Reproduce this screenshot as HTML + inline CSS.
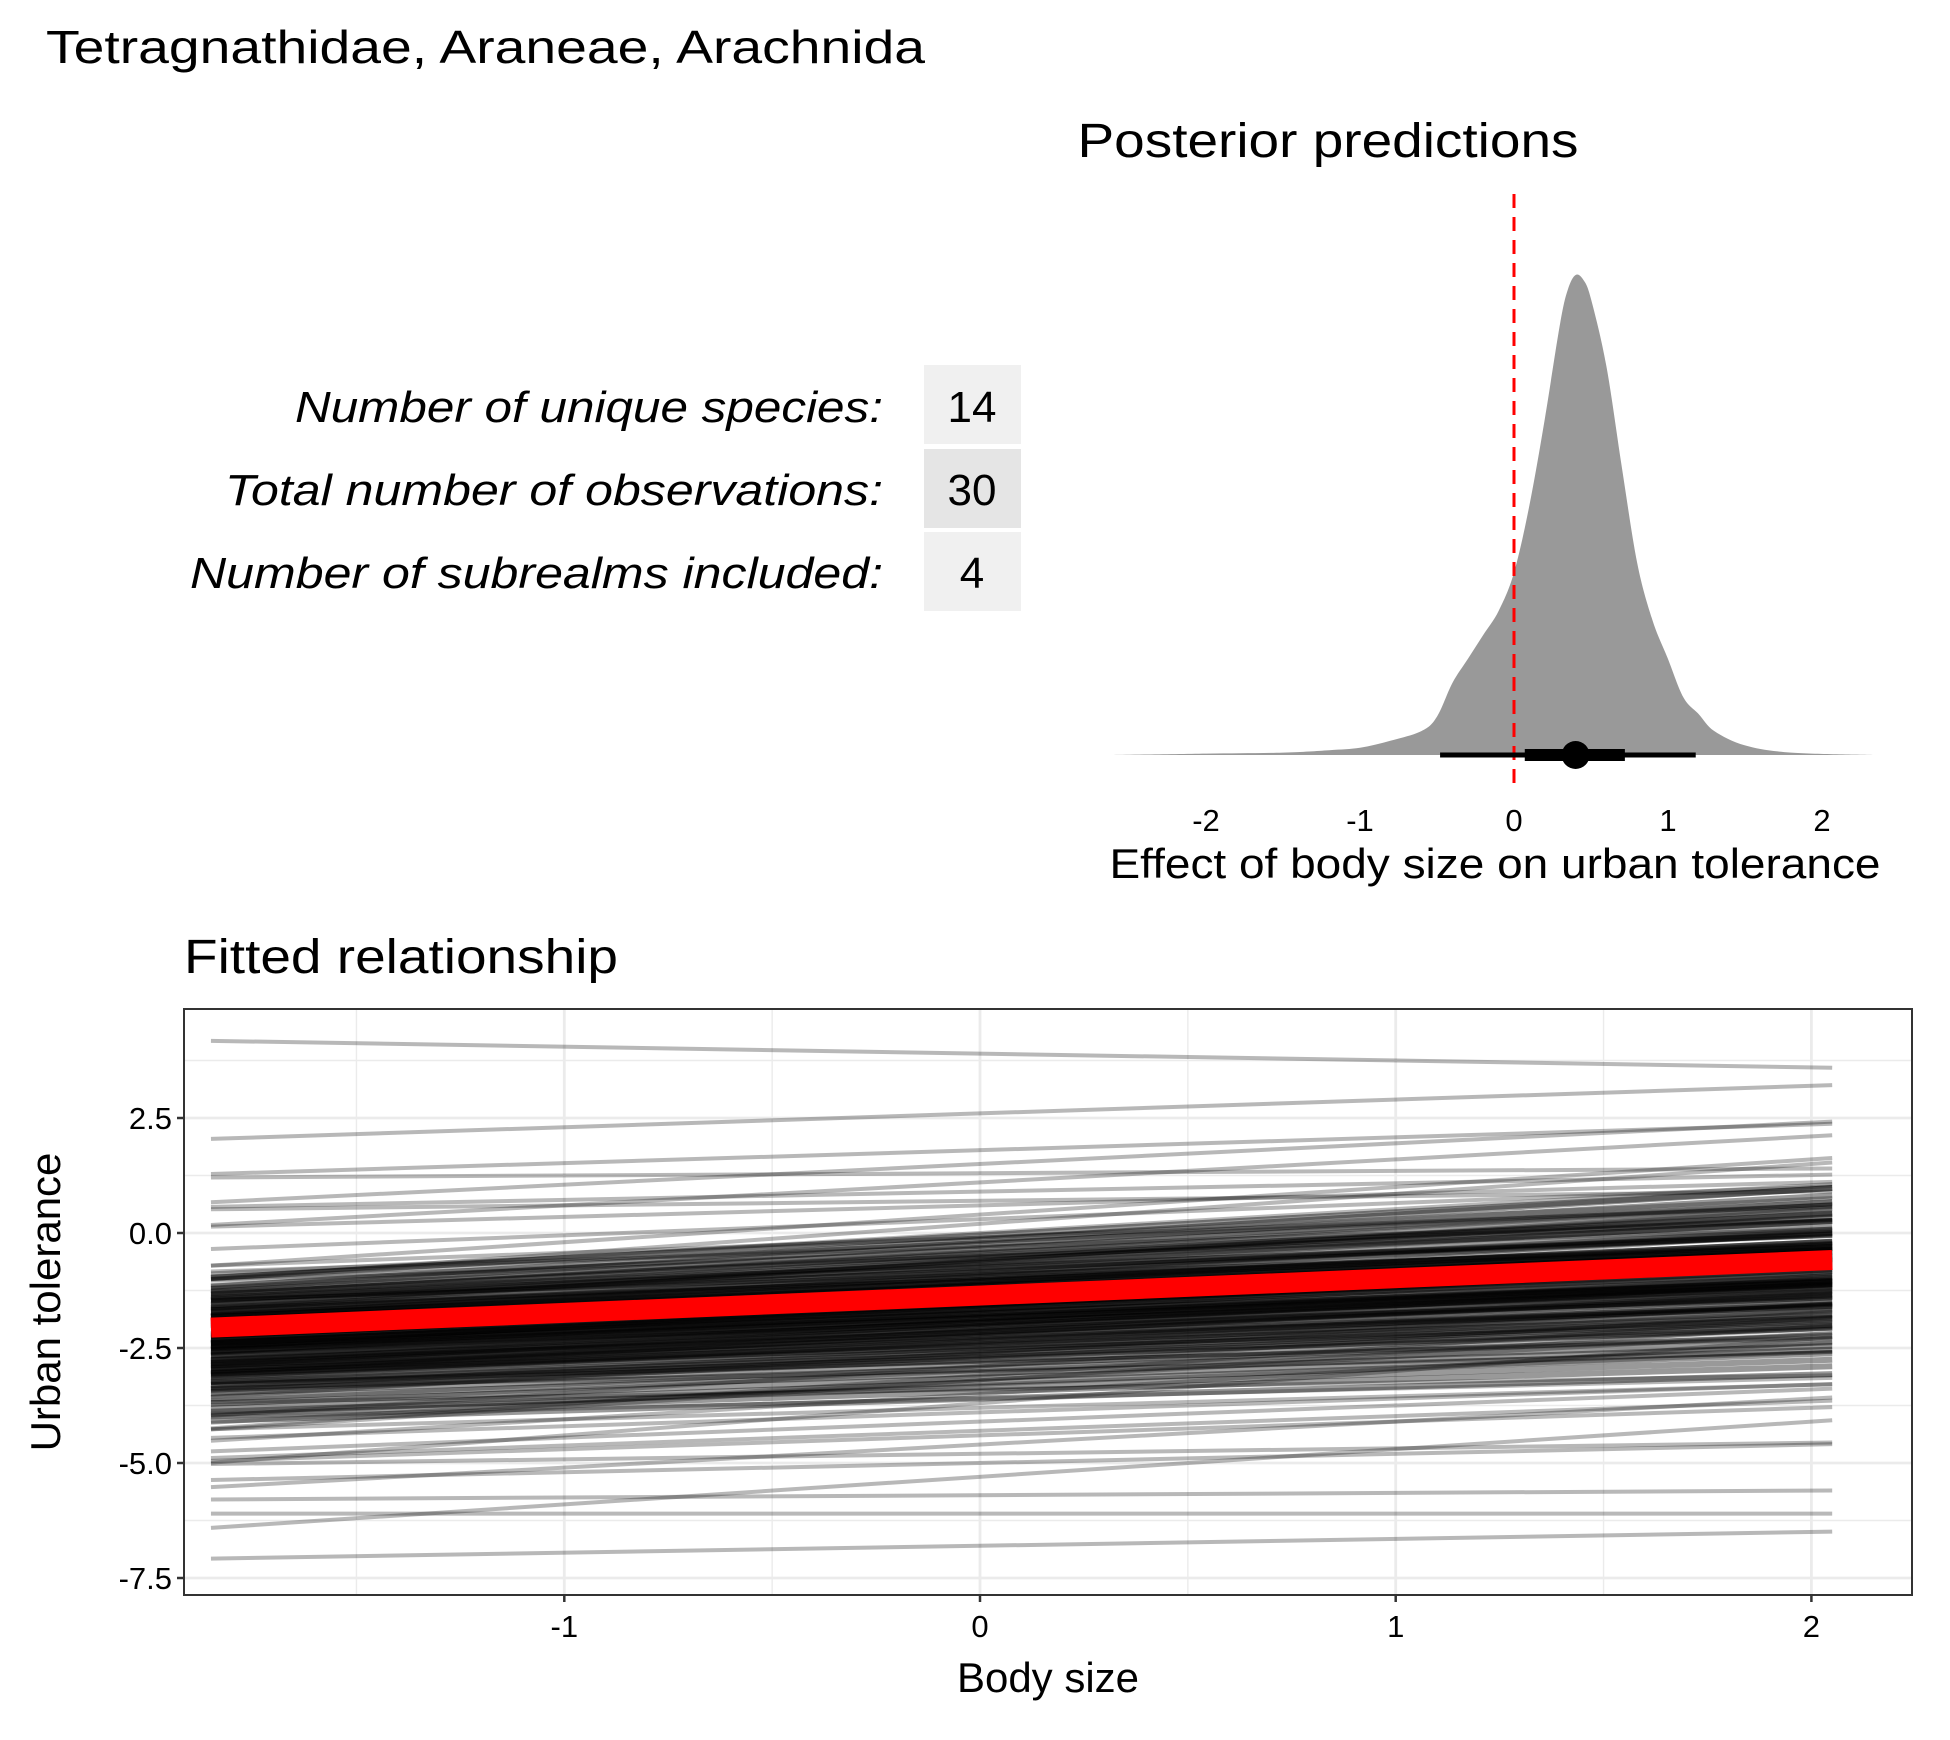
<!DOCTYPE html>
<html><head><meta charset="utf-8"><style>
html,body{margin:0;padding:0;background:#fff}
svg{display:block;font-family:"Liberation Sans",Arial,sans-serif}
</style></head><body>
<svg id="fig" width="1950" height="1740" viewBox="0 0 1950 1740" xmlns="http://www.w3.org/2000/svg">
<rect width="1950" height="1740" fill="#fff"/>
<text x="46" y="63" font-size="46" textLength="879" lengthAdjust="spacingAndGlyphs">Tetragnathidae, Araneae, Arachnida</text>
<g>
<text x="883" y="422" font-size="44" font-style="italic" text-anchor="end" textLength="588" lengthAdjust="spacingAndGlyphs">Number of unique species:</text>
<text x="883" y="505" font-size="44" font-style="italic" text-anchor="end" textLength="658" lengthAdjust="spacingAndGlyphs">Total number of observations:</text>
<text x="883" y="588" font-size="44" font-style="italic" text-anchor="end" textLength="693" lengthAdjust="spacingAndGlyphs">Number of subrealms included:</text>
<rect x="924" y="365" width="97" height="79" fill="#f0f0f0"/>
<rect x="924" y="449" width="97" height="79" fill="#e5e5e5"/>
<rect x="924" y="532" width="97" height="79" fill="#f0f0f0"/>
<text x="972" y="422" font-size="44" text-anchor="middle">14</text>
<text x="972" y="505" font-size="44" text-anchor="middle">30</text>
<text x="972" y="588" font-size="44" text-anchor="middle">4</text>
</g>
<text x="1328" y="157" font-size="48" text-anchor="middle" textLength="501" lengthAdjust="spacingAndGlyphs">Posterior predictions</text>
<g id="topPanel"></g>
<text x="184" y="973" font-size="48" textLength="434" lengthAdjust="spacingAndGlyphs">Fitted relationship</text>
<g id="botPanel"></g>
<text x="1048" y="1692" font-size="42" text-anchor="middle">Body size</text>
<text transform="translate(60,1302) rotate(-90)" font-size="42" text-anchor="middle">Urban tolerance</text>
<text x="1495" y="878" font-size="42" text-anchor="middle" textLength="771" lengthAdjust="spacingAndGlyphs">Effect of body size on urban tolerance</text>
</svg>
<script>
const NS="http://www.w3.org/2000/svg";
// ---- posterior density data ----
const densX=[-2.6,-2.0,-1.5,-1.2,-1.0,-0.8,-0.6,-0.5,-0.4,-0.3,-0.2,-0.1,0.0,0.1,0.2,0.3,0.35,0.4,0.45,0.5,0.6,0.7,0.8,0.9,1.0,1.1,1.2,1.3,1.5,1.8,2.35];
const densY=[0,0.003,0.005,0.01,0.015,0.03,0.05,0.08,0.15,0.2,0.25,0.3,0.38,0.52,0.7,0.9,0.97,1.0,0.99,0.95,0.81,0.6,0.4,0.28,0.2,0.12,0.085,0.05,0.02,0.005,0];
const topTicks=[-2,-1,0,1,2];
const intervalThin=[-0.48,1.18];
const intervalThick=[0.07,0.72];
const pointEst=[0.4];
// ---- fitted lines data ----
const xRange=[-1.85,2.05];
const fitIntercept=[-1.36];
const fitSlope=[0.377];
const intercepts=[-1.4,-0.9,-2.1,-1.6,-0.3,-2.8,-1.1,-1.9,-0.6,-2.4,-1.3,-3.2,-0.1,-1.7,-2.0,-1.2,-0.8,-2.6,-1.5,-3.6,0.4,-1.0,-2.2,-1.8,-0.5,-2.9,-1.4,-0.2,-3.0,-1.6,0.9,-2.3,-1.1,-4.1,-0.7,-1.9,-2.5,-1.3,0.2,-3.4,-1.0,-2.0,-0.4,-1.7,-2.7,-1.2,-3.9,0.6,-1.5,-2.1,-0.9,-3.1,-1.8,-0.3,-2.4,-1.4,1.3,-4.6,-1.1,-2.2,-0.6,-1.6,-3.3,-0.8,-2.0,1.8,-5.3,-1.3,-2.6,-0.1,-1.9,-3.7,-1.0,-2.3,0.0,-1.5,-2.8,-4.3,-0.5,-1.7,2.6,-6.1,-1.2,-2.1,-0.7,-3.5,-1.4,-1.8,0.7,-2.5,-5.0,-1.1,-3.0,-0.4,-2.0,3.9,-6.8,-1.6,-2.4,-0.9,1.1,-3.8,-1.3,-2.2,-4.8,0.3,-1.9,-2.9,-1.0,-5.7,-1.5,-0.2,-2.7,-3.2,1.5,-4.4,-1.8,-0.6,-2.3,-1.2];
const slopes=[0.4,0.3,0.5,0.35,0.45,0.25,0.42,0.38,0.55,0.3,0.4,0.5,0.33,0.44,0.28,0.47,0.36,0.52,0.41,0.22,0.6,0.34,0.46,0.39,0.29,0.58,0.37,0.43,0.2,0.49,0.18,0.4,0.53,0.35,0.31,0.45,0.27,0.48,0.65,0.15,0.38,0.42,0.5,0.32,0.44,0.36,0.3,0.25,0.55,0.4,0.47,0.62,0.33,0.29,0.41,0.46,0.05,0.5,0.37,0.3,0.57,0.43,0.35,0.39,0.48,0.28,0.6,0.34,0.45,0.42,0.31,0.7,0.4,0.36,0.52,0.44,0.26,0.32,0.38,0.49,0.3,0.0,0.41,0.35,0.46,0.55,0.39,0.43,0.1,0.47,0.2,0.37,0.4,0.33,0.45,-0.15,0.15,0.42,0.36,0.3,0.5,0.25,0.38,0.44,0.12,0.35,0.48,0.4,0.32,0.05,0.46,0.4,0.3,0.58,0.45,0.3,0.37,0.5,0.34,0.42];
const coreIntercepts=[-1.35,-1.05,-1.75,-2.15,-0.85,-2.45,-1.25,-1.55,-1.95,-0.65,-2.65,-1.15,-1.45,-1.85,-2.25,-0.95,-2.85,-1.65,-0.45,-3.05,-1.3,-1.7,-2.05,-0.75,-2.35,-1.0,-1.6,-2.55,-0.55,-3.25,-1.2,-1.9,-2.1,-0.35,-2.75,-1.5,-1.8,-0.8,-2.95,-1.1,-1.4,-2.3,-0.25,-3.45,-1.65,-2.0,-0.6,-2.5,-1.25,-1.75,-0.9,-3.15,-1.55,-2.2,-0.15,-2.7,-1.05,-1.85,-0.7,-2.4,-1.35,-3.6,-0.05,-1.95,-2.6,-0.5,-1.45,-3.35,-1.15,-2.15];
const coreSlopes=[0.38,0.42,0.35,0.4,0.45,0.33,0.37,0.41,0.39,0.44,0.32,0.36,0.43,0.38,0.34,0.46,0.3,0.4,0.48,0.29,0.39,0.36,0.42,0.35,0.41,0.37,0.44,0.33,0.47,0.31,0.4,0.38,0.36,0.5,0.34,0.42,0.37,0.45,0.28,0.39,0.43,0.35,0.52,0.27,0.4,0.36,0.46,0.32,0.41,0.38,0.44,0.3,0.37,0.4,0.55,0.33,0.42,0.36,0.47,0.35,0.39,0.26,0.5,0.38,0.34,0.45,0.41,0.29,0.4,0.37];

function el(tag,attrs,parent){const e=document.createElementNS(NS,tag);for(const k in attrs)e.setAttribute(k,attrs[k]);parent.appendChild(e);return e;}

// top panel
const topG=document.getElementById('topPanel');
const tx=v=>1514+v*154;
const ty=d=>755-d*480;
const P=densX.map((x,i)=>[tx(x),ty(densY[i])]);
let dp="M"+P[0][0].toFixed(1)+","+P[0][1].toFixed(1);
for(let i=0;i<P.length-1;i++){
  const p0=P[Math.max(0,i-1)],p1=P[i],p2=P[i+1],p3=P[Math.min(P.length-1,i+2)];
  const c1=[p1[0]+(p2[0]-p0[0])/6,p1[1]+(p2[1]-p0[1])/6];
  const c2=[p2[0]-(p3[0]-p1[0])/6,p2[1]-(p3[1]-p1[1])/6];
  dp+=` C${c1[0].toFixed(1)},${Math.min(755,c1[1]).toFixed(1)} ${c2[0].toFixed(1)},${Math.min(755,c2[1]).toFixed(1)} ${p2[0].toFixed(1)},${p2[1].toFixed(1)}`;
}
dp+="Z";
const dens=el('path',{d:dp,fill:'#999999'},topG);


const zl=el('line',{x1:tx(0),x2:tx(0),y1:194,y2:790,stroke:'#ff0000','stroke-width':3,'stroke-dasharray':'14,9'},topG);


const thin=el('line',{x1:tx(intervalThin[0]),x2:tx(intervalThin[1]),y1:755,y2:755,stroke:'#000','stroke-width':5},topG);


const thick=el('line',{x1:tx(intervalThick[0]),x2:tx(intervalThick[1]),y1:755,y2:755,stroke:'#000','stroke-width':12},topG);


const pt=el('circle',{cx:tx(pointEst[0]),cy:755,r:14,fill:'#000'},topG);


topTicks.forEach(v=>{const t=el('text',{x:tx(v),y:831,'font-size':31,'text-anchor':'middle',fill:'#000'},topG);t.textContent=v;

});

// bottom panel
const botG=document.getElementById('botPanel');
const L=184,R=1912,T=1009,B=1595;
const bx=v=>980+v*415.7;
const by=v=>1233-v*46;
el('rect',{x:L,y:T,width:R-L,height:B-T,fill:'#fff'},botG);
const xMaj=[-1,0,1,2], xMin=[-1.5,-0.5,0.5,1.5];
const yMaj=[2.5,0,-2.5,-5,-7.5], yMin=[3.75,1.25,-1.25,-3.75,-6.25];
xMin.forEach(v=>el('line',{x1:bx(v),x2:bx(v),y1:T,y2:B,stroke:'#ebebeb','stroke-width':1.4},botG));
yMin.forEach(v=>el('line',{x1:L,x2:R,y1:by(v),y2:by(v),stroke:'#ebebeb','stroke-width':1.4},botG));
xMaj.forEach(v=>el('line',{x1:bx(v),x2:bx(v),y1:T,y2:B,stroke:'#ebebeb','stroke-width':2.8},botG));
yMaj.forEach(v=>el('line',{x1:L,x2:R,y1:by(v),y2:by(v),stroke:'#ebebeb','stroke-width':2.8},botG));
function drawLines(ints,sls,alpha,w){
  const n=Math.min(ints.length,sls.length);
  for(let i=0;i<n;i++){
    const l=el('line',{x1:bx(xRange[0]),x2:bx(xRange[1]),y1:by(ints[i]+sls[i]*xRange[0]),y2:by(ints[i]+sls[i]*xRange[1]),stroke:'rgba(0,0,0,'+alpha+')','stroke-width':w},botG);
    
    
  }
}
drawLines(intercepts,slopes,0.28,4);
drawLines(coreIntercepts,coreSlopes,0.4,6);
const fit=el('line',{x1:bx(xRange[0]),x2:bx(xRange[1]),y1:by(fitIntercept[0]+fitSlope[0]*xRange[0]),y2:by(fitIntercept[0]+fitSlope[0]*xRange[1]),stroke:'#ff0000','stroke-width':20},botG);


el('rect',{x:L,y:T,width:R-L,height:B-T,fill:'none',stroke:'#333','stroke-width':2},botG);
xMaj.forEach(v=>{el('line',{x1:bx(v),x2:bx(v),y1:B,y2:B+7,stroke:'#333','stroke-width':2.5},botG);
  const t=el('text',{x:bx(v),y:B+42,'font-size':31,'text-anchor':'middle',fill:'#000'},botG);t.textContent=v;
  
  });
yMaj.forEach(v=>{el('line',{x1:L-7,x2:L,y1:by(v),y2:by(v),stroke:'#333','stroke-width':2.5},botG);
  const t=el('text',{x:L-12,y:by(v)+11,'font-size':31,'text-anchor':'end',fill:'#000'},botG);t.textContent=v.toFixed(1);
  
  });
</script>
</body></html>
